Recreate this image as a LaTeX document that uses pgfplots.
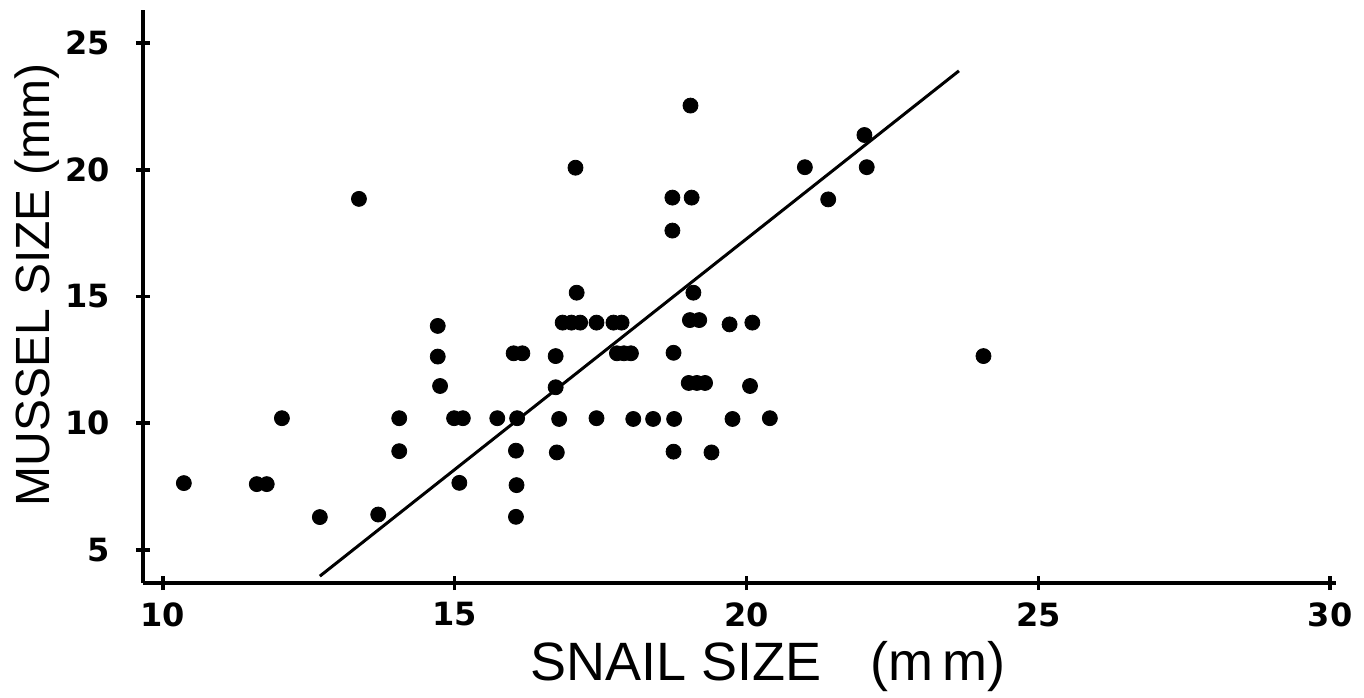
\documentclass[border=0pt]{standalone}
\usepackage{fontspec}
\setmainfont{Liberation Sans}
\newfontfamily\tickfont{DejaVu Sans}
\usepackage{pgfplots}
\pgfplotsset{compat=1.18}
\begin{document}
\begin{tikzpicture}
\useasboundingbox (-71.5pt,-57pt) rectangle (610.5pt,291.5pt);
\begin{axis}[
  at={(0,0)}, anchor=south west,
  scale only axis,
  width=596.5pt, height=286.5pt,
  xmin=9.66, xmax=30.1, ymin=3.7, ymax=26.3,
  axis x line*=bottom, axis y line*=left,
  axis line style={line width=2pt},
  xtick={10,15,20,25,30}, ytick={5,10,15,20,25},
  tick align=center, major tick length=7pt,
  tick style={line width=1.8pt, black},
  /pgf/number format/assume math mode=true,
  ticklabel style={font=\tickfont\fontsize{16}{16}\selectfont\bfseries},
  xticklabel style={inner sep=0pt, anchor=north, yshift=-6pt},
  yticklabel style={inner sep=0pt, anchor=east, xshift=-13pt},
  xlabel={SNAIL SIZE\hspace{0.9em}(m\,m)},
  ylabel={MUSSEL SIZE (mm)},
  xlabel style={font=\fontsize{27}{27}\selectfont, at={(axis description cs:0.524,-0.1466)}, anchor=center},
  ylabel style={font=\fontsize{24}{24}\selectfont, at={(axis description cs:-0.0889,0.52)}, anchor=center, rotate=0},
  clip=false,
]
\addplot[only marks, mark=*, mark size=3.75pt, black, mark options={fill=black}] coordinates {
(10.36,7.64) (11.61,7.6) (11.78,7.6) (12.04,10.2) (12.69,6.3) (13.36,18.85)
(13.69,6.4) (14.05,10.2) (14.05,8.9) (14.71,13.84) (14.71,12.63) (14.75,11.47)
(14.99,10.2) (15.14,10.2) (15.08,7.65) (15.73,10.2) (16.07,10.2) (16.05,8.92)
(16.06,7.56) (16.05,6.31) (16.01,12.76) (16.16,12.76) (16.73,12.65) (16.73,11.42)
(16.79,10.17) (16.75,8.85) (16.85,13.97) (17.0,13.97) (17.15,13.97) (17.43,13.97)
(17.72,13.97) (17.86,13.97) (17.78,12.76) (17.9,12.76) (18.02,12.76) (18.75,12.78)
(17.43,10.2) (18.06,10.17) (18.4,10.17) (18.76,10.17) (18.75,8.88) (19.4,8.85)
(19.76,10.17) (20.4,10.2) (19.03,14.07) (19.19,14.07) (19.71,13.9) (20.1,13.97)
(19.01,11.59) (19.15,11.59) (19.29,11.59) (20.06,11.47) (17.07,20.08) (19.04,22.53)
(18.73,18.9) (19.06,18.9) (18.73,17.6) (17.09,15.15) (19.09,15.15) (21.0,20.1)
(22.02,21.37) (22.06,20.1) (21.4,18.83) (24.06,12.65)
};
\addplot[black, line width=1.5pt] coordinates {(12.69,3.97) (23.64,23.9)};
\end{axis}
\end{tikzpicture}
\end{document}
